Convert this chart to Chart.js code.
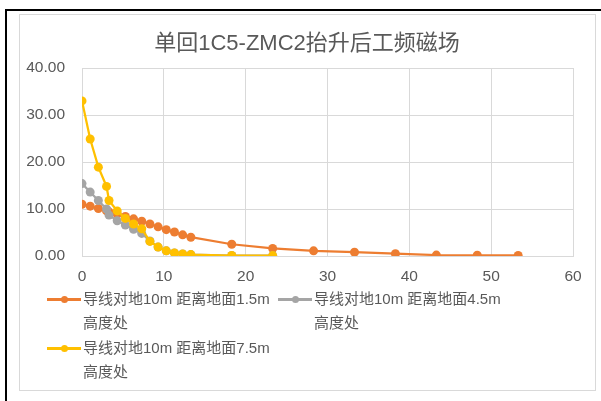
<!DOCTYPE html>
<html>
<head>
<meta charset="utf-8">
<title>单回1C5-ZMC2抬升后工频磁场</title>
<script src="https://cdn.jsdelivr.net/npm/chart.js"></script>
<style>
  html, body { margin: 0; padding: 0; background: #fff; }
  #page { position: relative; width: 601px; height: 401px; overflow: hidden; }
  #topline { position: absolute; left: 5px; top: 9px; width: 596px; height: 2px; background: #000; }
  #leftline { position: absolute; left: 5px; top: 9px; width: 2px; height: 392px; background: #000; }
  #frame { position: absolute; left: 19px; top: 14px; width: 575px; height: 375px; border: 1px solid #d9d9d9; }
  #chart { position: absolute; left: 0; top: 0; }
  #title { position: absolute; left: 0; width: 614px; top: 29px; text-align: center;
    font: 22px "Liberation Sans", "Noto Sans CJK SC", sans-serif; color: #595959; line-height: 28px; }
  .leg { position: absolute; font: 15px "Liberation Sans", "Noto Sans CJK SC", sans-serif; color: #595959; line-height: 24px; }
  .leg .sym { position: absolute; left: 0; top: 11px; width: 34px; height: 2.5px; }
  .leg .dot { position: absolute; left: 13.5px; top: -2.5px; width: 7px; height: 7px; border-radius: 50%; }
  .leg .txt { position: absolute; left: 36px; top: 0; white-space: nowrap; }
</style>
</head>
<body>
<div id="page">
  <div id="topline"></div>
  <div id="leftline"></div>
  <div id="frame"></div>
  <canvas id="chart" width="601" height="401"></canvas>
  <div id="title">单回1C5-ZMC2抬升后工频磁场</div>
  <div id="legend"></div>
</div>
<script>
// distance from centre line (m)
const distances = [0, 1, 2, 3, 3.3, 4.3, 5.3, 6.3, 7.3, 8.3, 9.3, 10.3, 11.3, 12.3, 13.3, 18.3, 23.3, 28.3, 33.3, 38.3, 43.3, 48.3, 53.3];

// field values, one array per height
const field15 = [11.0, 10.6, 10.1, 9.6, 9.4, 8.9, 8.4, 7.9, 7.4, 6.8, 6.2, 5.6, 5.1, 4.5, 4.0, 2.5, 1.6, 1.1, 0.8, 0.5, 0.2, 0.15, 0.12];
const field45 = [15.4, 13.6, 11.8, 10.0, 8.7, 7.5, 6.6, 5.7, 4.8, 3.2, 1.9, 1.1, 0.65, 0.42, 0.3, 0.1, 0.08];
const field75 = [33.0, 24.9, 18.9, 14.8, 11.8, 9.6, 8.0, 6.8, 5.8, 3.1, 1.9, 1.1, 0.65, 0.42, 0.3, 0.1, 0.08];

const seriesNames = [
  ['导线对地10m 距离地面1.5m', '高度处'],
  ['导线对地10m 距离地面4.5m', '高度处'],
  ['导线对地10m 距离地面7.5m', '高度处']
];
const seriesColors = ['#ED7D31', '#A5A5A5', '#FFC000'];
const xTicks = [0, 10, 20, 30, 40, 50, 60];
const yTicks = [0, 10, 20, 30, 40];

function toPoints(vals) {
  return vals.map((v, i) => ({ x: distances[i], y: v }));
}

const allSeries = [field15, field45, field75];
const datasets = allSeries.map((vals, i) => ({
  label: seriesNames[i].join(''),
  data: toPoints(vals),
  showLine: true,
  borderColor: seriesColors[i],
  backgroundColor: seriesColors[i],
  borderWidth: 2.25,
  pointRadius: 4.5,
  pointHoverRadius: 4.5,
  pointBorderWidth: 0,
  order: 3 - i
}));

const tickFont = { family: 'Liberation Sans', size: 15.5 };

new Chart(document.getElementById('chart'), {
  type: 'scatter',
  data: { datasets: datasets },
  options: {
    responsive: false,
    animation: false,
    events: [],
    layout: { padding: { left: 0, right: 28, top: 68, bottom: 115 } },
    plugins: {
      legend: { display: false },
      title: { display: false },
      tooltip: { enabled: false }
    },
    scales: {
      x: {
        type: 'linear',
        min: xTicks[0],
        max: xTicks[xTicks.length - 1],
        afterBuildTicks: s => { s.ticks = xTicks.map(v => ({ value: v })); },
        afterFit: s => { s.height = 30; },
        grid: { color: '#d9d9d9', drawTicks: false },
        border: { color: '#d9d9d9' },
        ticks: { font: tickFont, color: '#595959', padding: 11, maxRotation: 0 }
      },
      y: {
        type: 'linear',
        min: yTicks[0],
        max: yTicks[yTicks.length - 1],
        afterBuildTicks: s => { s.ticks = yTicks.map(v => ({ value: v })); },
        afterFit: s => { s.width = 82; },
        grid: { color: '#d9d9d9', drawTicks: false },
        border: { color: '#d9d9d9' },
        ticks: { font: tickFont, color: '#595959', padding: 17, callback: v => v.toFixed(2) }
      }
    }
  }
});

// legend laid out like the spreadsheet one, two columns
const legendPos = [[47, 287], [278, 287], [47, 336]];
const legend = document.getElementById('legend');
seriesNames.forEach((lines, i) => {
  const d = document.createElement('div');
  d.className = 'leg';
  d.style.left = legendPos[i][0] + 'px';
  d.style.top = legendPos[i][1] + 'px';
  d.innerHTML = '<div class="sym" style="background:' + seriesColors[i] + '"><div class="dot" style="background:' +
    seriesColors[i] + '"></div></div><div class="txt">' + lines.join('<br>') + '</div>';
  legend.appendChild(d);
});
</script>
</body>
</html>
